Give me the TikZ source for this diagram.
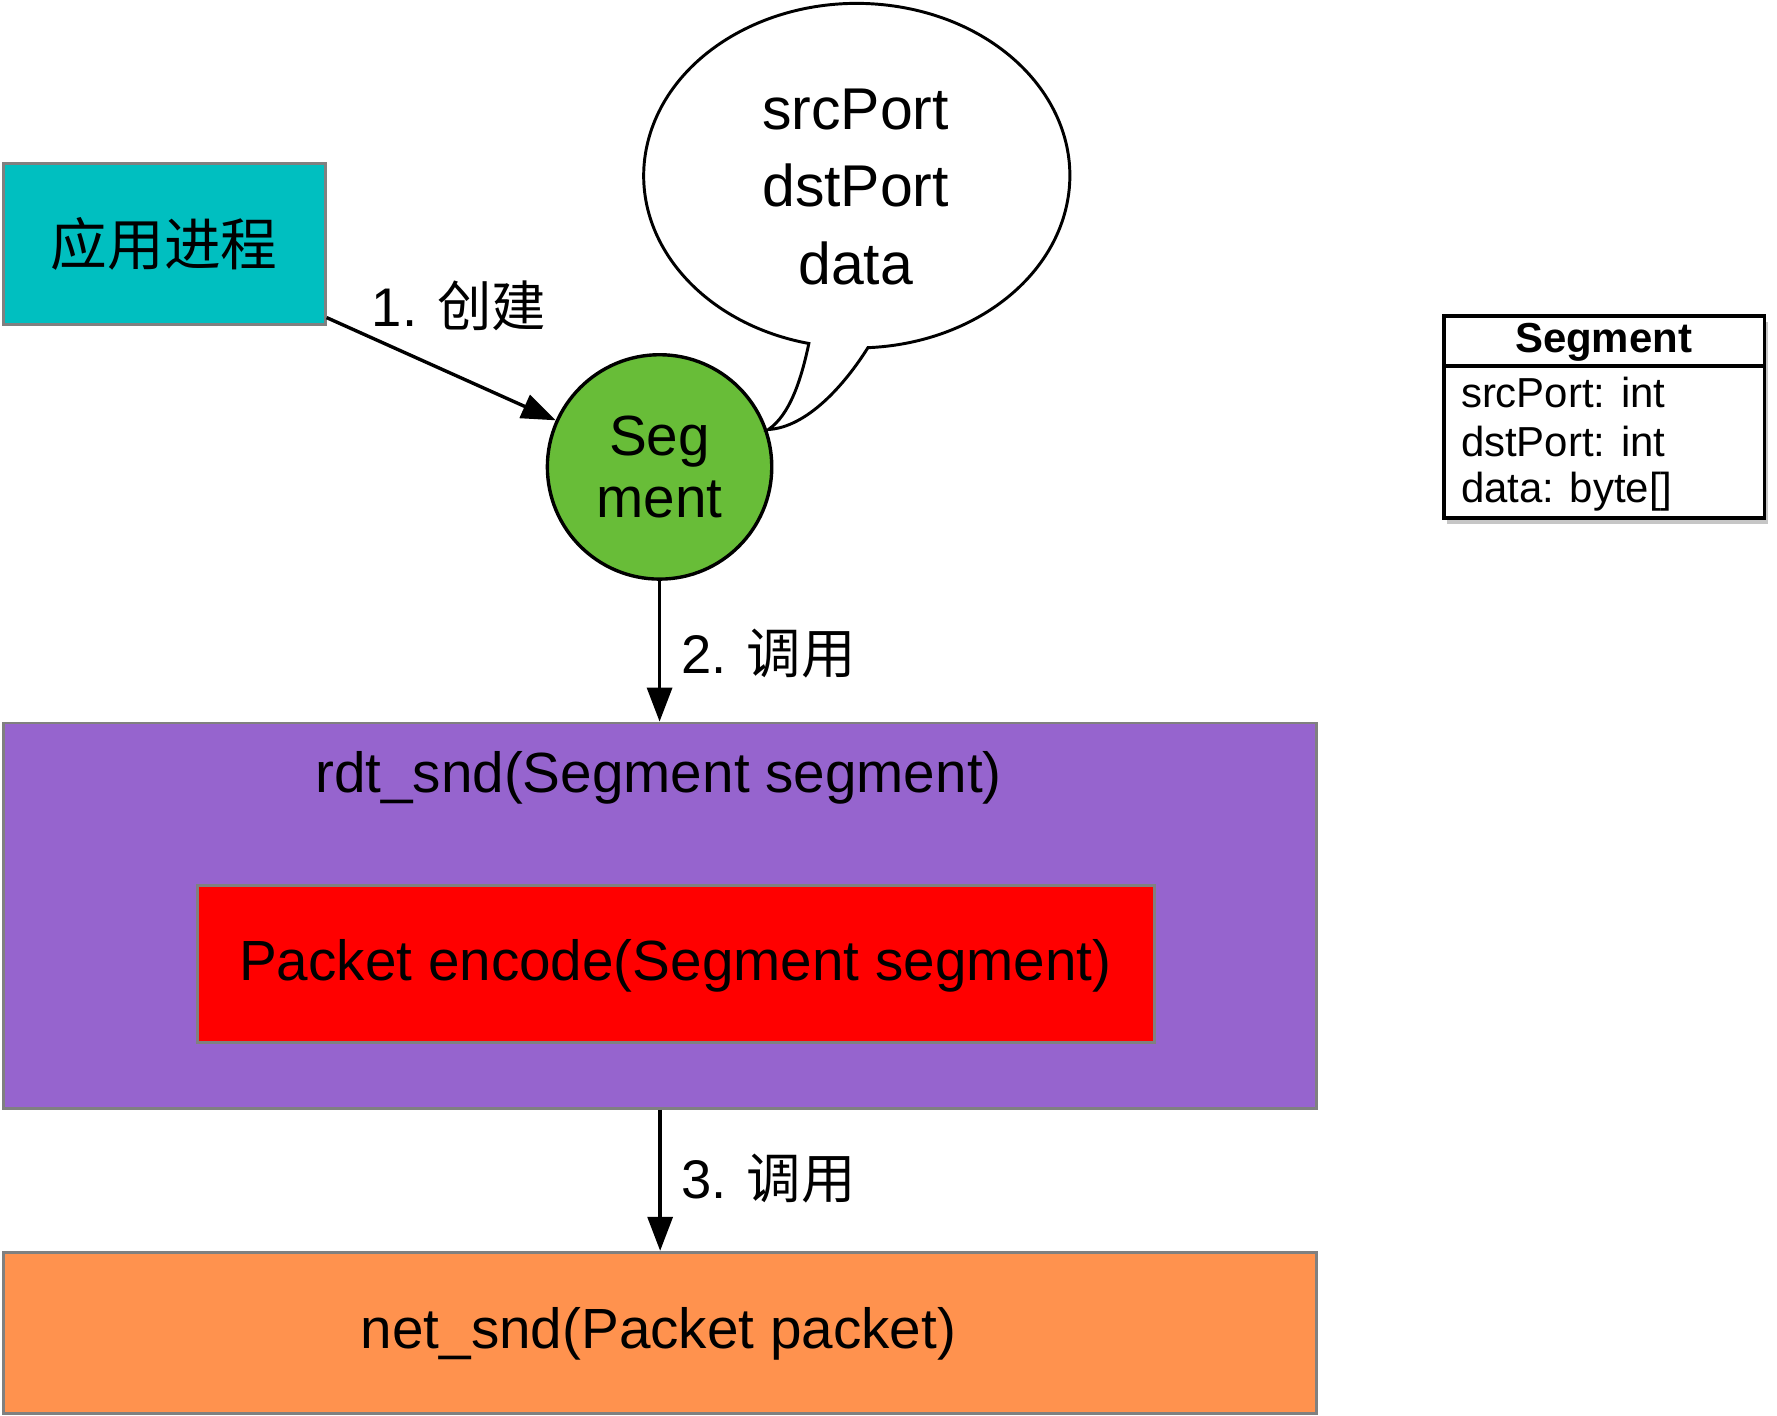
\documentclass[tikz,border=0pt]{standalone}
\usepackage{fontspec}
\setmainfont{Liberation Sans}
\newfontfamily\cjk{Noto Sans CJK SC}
\usetikzlibrary{arrows.meta,shadows}
\definecolor{cyanbox}{RGB}{0,191,192}
\definecolor{greenc}{RGB}{104,189,56}
\definecolor{purplebox}{RGB}{150,100,206}
\definecolor{redbox}{RGB}{255,0,0}
\definecolor{orangebox}{RGB}{255,146,78}
\definecolor{boxline}{RGB}{128,128,128}
\begin{document}
\begin{tikzpicture}[x=1pt,y=-1pt,
  box/.style={draw=boxline, line width=2.5pt, inner sep=0pt},
  conn/.style={line width=3pt, -{Triangle[length=30pt,width=22pt]}},
  big/.style={font=\fontsize{50}{54}\selectfont},
  lbl/.style={font=\fontsize{48}{54}\selectfont, inner sep=0pt},
  cls/.style={font=\fontsize{37}{44}\selectfont, inner sep=0pt}]
\useasboundingbox (0,0) rectangle (1568,1249);

% boxes
\node[box, fill=cyanbox, minimum width=284pt, minimum height=142pt] (app) at (145,215) {};
\node[font=\cjk\fontsize{50}{54}\selectfont] (apptxt) at (145,215) {应用进程};

\node[box, fill=purplebox, minimum width=1159pt, minimum height=340pt] (rdt) at (582.5,808) {};
\node[big] (rdttxt) at (581,686) {rdt\_snd(Segment segment)};

\node[box, fill=redbox, minimum width=845pt, minimum height=139pt] (enc) at (596.5,850.5) {};
\node[big] (enctxt) at (596,852) {Packet encode(Segment segment)};

\node[box, fill=orangebox, minimum width=1159pt, minimum height=142pt] (net) at (582.5,1176) {};
\node[big] (nettxt) at (581,1177) {net\_snd(Packet packet)};

% circle
\node[circle, draw=black, line width=3pt, fill=greenc, minimum size=198pt, inner sep=0pt,
      align=center, font=\fontsize{50}{54}\selectfont] (seg) at (582,412) {Seg\\ment};

% speech bubble
\draw[line width=2.6pt, fill=white]
  (756,155) ++(103:188 and 152) coordinate (bl)
  arc[start angle=103, end angle=447, x radius=188, y radius=152] coordinate (br)
  .. controls (745,340) and (712,377) .. (678,379) coordinate (tip)
  .. controls (697,366) and (707,335) .. (bl) -- cycle;
\node[align=center, font=\fontsize{52}{68.5}\selectfont] (bubtxt) at (755,165) {srcPort\\dstPort\\data};

% connectors
\draw[conn] ([yshift=7pt]app.south east) -- (seg);
\node[lbl] (l1) at (405,270) {1. {\cjk 创建}};

\draw[conn] (seg) -- (seg |- rdt.north);
\node[lbl] (l2) at (678,577) {2. {\cjk 调用}};

\draw[conn] (rdt.south) -- (net.north);
\node[lbl] (l3) at (678,1040) {3. {\cjk 调用}};

% class box
\node[draw=black, line width=3pt, fill=white, minimum width=283pt, minimum height=178pt,
      drop shadow={shadow xshift=3pt, shadow yshift=-5pt, opacity=0.45}] (cls) at (1415.5,368) {};
\draw[line width=3pt] (cls.west |- 0,323) -- (cls.east |- 0,323);
\node[cls, font=\bfseries\fontsize{37}{44}\selectfont] (clst) at (1415,302) {Segment};
\node[cls, anchor=west] (f1) at (1289,346) {srcPort: int};
\node[cls, anchor=west] (f2) at (1289,390) {dstPort: int};
\node[cls, anchor=west] (f3) at (1289,434) {data: byte[]};
\end{tikzpicture}
\end{document}
